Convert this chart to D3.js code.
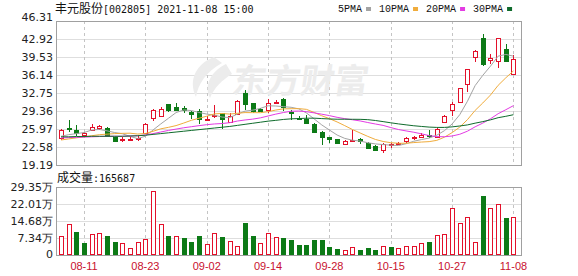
<!DOCTYPE html>
<html>
<head>
<meta charset="utf-8">
<script src="https://cdn.jsdelivr.net/npm/d3@7/dist/d3.min.js"></script>
<style>
	body { margin: 0; background: #fff; }
	svg { display: block; }
</style>
</head>
<body>
<div id="chart"></div>
<script>
// trading days shown on the chart
const dates = ["08-06","08-09","08-10","08-11","08-12","08-13","08-16","08-17","08-18","08-19","08-20",
	"08-23","08-24","08-25","08-26","08-27","08-30","08-31","09-01","09-02","09-03","09-06","09-07",
	"09-08","09-09","09-10","09-13","09-14","09-15","09-16","09-17","09-22","09-23","09-24","09-27",
	"09-28","09-29","09-30","10-08","10-11","10-12","10-13","10-14","10-15","10-18","10-19","10-20",
	"10-21","10-22","10-25","10-26","10-27","10-28","10-29","11-01","11-02","11-03","11-04","11-05","11-08"];

const opens = [24.2,26.15,25.8,24.9,25.8,26.2,26.2,24.4,24.0,23.9,24.0,25.3,28.0,28.4,30.6,30.2,29.9,29.2,29.4,27.7,
	28.4,28.9,27.3,28.9,32.8,30.8,29.7,29.5,31.0,31.7,29.1,28.1,27.8,27.0,25.4,24.4,24.0,23.3,23.7,24.0,
	23.4,22.8,22.1,23.0,23.2,23.6,24.2,24.5,24.8,24.4,27.3,29.5,31.0,34.4,39.6,43.05,39.0,38.8,41.0,36.3];
const highs = [25.9,27.65,26.7,25.4,27.0,26.7,26.3,24.5,24.5,24.4,24.6,27.1,29.8,30.2,30.7,30.8,30.3,29.3,29.7,28.4,
	30.4,29.0,29.0,31.4,33.4,30.9,30.0,31.6,31.4,31.8,29.55,28.5,28.6,27.1,25.5,24.5,24.1,23.9,25.8,24.2,
	23.6,22.9,23.4,23.4,23.5,24.5,24.6,25.2,25.8,26.1,28.6,31.1,33.7,37.3,40.8,43.9,40.1,43.1,42.0,40.0];
const lows = [23.9,25.45,24.65,24.8,25.5,25.7,24.6,23.5,23.6,23.8,23.8,25.2,27.4,28.3,29.2,29.3,29.0,27.8,26.9,27.5,
	28.0,25.9,27.1,28.8,29.5,29.0,29.1,28.9,30.8,29.4,27.7,27.6,27.0,25.4,23.0,23.3,23.1,23.2,23.6,23.2,
	22.4,22.0,21.5,22.3,23.1,23.3,23.9,24.3,24.2,24.3,27.2,28.4,30.9,33.0,38.5,37.8,38.3,37.4,38.7,36.1];
const closes = [25.8,26.0,25.3,25.2,26.4,26.5,24.7,23.7,24.1,24.15,24.2,27.0,29.5,29.8,29.4,29.6,29.5,28.9,27.8,27.9,
	28.6,27.7,28.4,31.3,30.7,29.3,29.4,30.8,31.1,30.1,28.9,27.9,27.0,25.5,24.4,24.1,23.2,23.8,23.85,23.6,
	22.5,22.1,23.2,23.1,23.3,24.2,24.4,24.8,24.6,26.0,28.5,30.7,33.6,37.2,40.7,38.2,39.3,43.05,38.8,39.1];

// volume in 万 (10k shares)
const volumes = [8.4,13.5,9.8,5.0,9.1,9.5,8.4,5.7,5.1,3.1,5.7,6.9,27.7,13.5,8.4,8.4,7.2,5.4,8.1,4.7,
	9.5,7.6,6.2,3.7,13.8,8.4,5.1,9.5,7.9,7.2,6.6,4.4,4.4,6.6,6.6,3.5,2.5,2.2,3.5,2.2,
	3.1,2.2,4.0,3.5,2.9,4.0,4.0,5.1,5.7,8.7,9.1,20.1,13.9,16.4,5.7,25.5,20.1,21.9,16.0,16.5687];

const ma5 = [24.6,24.9,25.1,25.3,25.78,25.88,25.62,25.3,25.08,24.58,24.16,24.62,25.78,26.92,27.98,29.06,29.56,29.44,29.08,28.78,
	28.58,28.22,28.12,28.78,29.34,29.52,29.86,30.34,30.3,30.18,30.06,29.76,29.0,27.88,26.74,25.78,24.84,24.2,23.86,23.7,
	23.38,23.16,23.04,22.92,22.86,23.2,23.66,23.98,24.26,24.8,25.66,26.92,28.68,31.2,34.14,36.08,37.8,39.69,40.01,39.69];
const ma10 = [23.9,24.1,24.3,24.5,24.7,24.9,25.0,25.1,25.15,25.18,25.02,25.12,25.54,26.0,26.28,26.61,27.09,27.61,28.0,28.38,
	28.82,28.89,28.78,28.93,29.06,29.05,29.04,29.23,29.54,29.76,29.79,29.81,29.67,29.09,28.46,27.92,27.3,26.6,25.87,25.22,
	24.58,24.0,23.62,23.39,23.28,23.29,23.41,23.51,23.59,23.83,24.43,25.29,26.33,27.73,29.47,30.87,32.36,34.19,35.61,36.92];
const ma20 = [24.3,24.35,24.4,24.45,24.5,24.55,24.6,24.6,24.6,24.65,24.7,24.85,25.1,25.4,25.7,25.95,26.2,26.4,26.6,26.78,
	26.92,27.0,27.16,27.47,27.67,27.83,28.07,28.42,28.77,29.07,29.31,29.35,29.23,29.01,28.76,28.49,28.17,27.92,27.71,27.49,
	27.19,26.91,26.65,26.24,25.87,25.61,25.36,25.06,24.73,24.53,24.51,24.65,24.98,25.56,26.38,27.08,27.89,28.85,29.6,30.37];
const ma30 = [24.5,24.5,24.55,24.55,24.6,24.6,24.6,24.6,24.6,24.65,24.7,24.8,24.95,25.1,25.25,25.4,25.55,25.7,25.85,26.0,
	26.15,26.3,26.45,26.65,26.85,27.05,27.25,27.45,27.6,27.77,27.88,27.94,28.0,28.01,27.93,27.86,27.81,27.81,27.8,27.79,
	27.73,27.57,27.36,27.14,26.93,26.75,26.58,26.45,26.33,26.27,26.27,26.37,26.54,26.74,27.07,27.36,27.69,28.1,28.36,28.66];

const maNames = ["5PMA", "10PMA", "20PMA", "30PMA"];
const maColors = ["#a3a3a3", "#f0ac3c", "#e33be3", "#0f6b2c"];

const priceTicks = [19.19, 22.58, 25.97, 29.36, 32.75, 36.14, 39.53, 42.92, 46.31];
const volumeTicks = [0, 7.34, 14.68, 22.01, 29.35];
const dateTicks = ["08-11", "08-23", "09-02", "09-14", "09-28", "10-15", "10-27", "11-08"];

const stockName = "丰元股份";
const stockInfo = "[002805] 2021-11-08 15:00";
const lastVolume = "165687";

class klineChart {
	constructor({ container }) {
		this.container = container;
		this.width = 578;
		this.height = 276;
		this.left = 56.5;
		this.right = 521.5;
		this.price = { top: 21, bottom: 165 };
		this.vol = { top: 187, bottom: 255 };
		this.red = "#e3102a";
		this.green = "#0c7a16";

		this.init();
		this.drawGrid();
		this.drawWatermark();
		this.drawCandles();
		this.drawMA();
		this.drawVolume();
		this.drawLabels();
	}

	init() {
		this.svg = d3.select(this.container)
			.append("svg")
			.attr("width", this.width)
			.attr("height", this.height);

		this.x = d3.scaleBand()
			.domain(dates)
			.range([57.2, 517.3])
			.paddingInner(0.35)
			.paddingOuter(0.175);
		this.cx = d => this.x(d) + this.x.bandwidth() / 2;

		this.y = d3.scaleLinear().domain([19.19, 46.31]).range([this.price.bottom, this.price.top]);
		this.yv = d3.scaleLinear().domain([0, 29.35]).range([this.vol.bottom, this.vol.top]);
	}

	drawGrid() {
		const g = this.svg.append("g").attr("shape-rendering", "crispEdges");

		// horizontal lines
		g.selectAll(".hp").data(priceTicks.slice(1, -1)).enter()
			.append("line")
			.attr("x1", this.left).attr("x2", this.right)
			.attr("y1", d => Math.round(this.y(d)) + 0.5)
			.attr("y2", d => Math.round(this.y(d)) + 0.5)
			.attr("stroke", "#dedede");
		g.selectAll(".hv").data(volumeTicks.slice(1, -1)).enter()
			.append("line")
			.attr("x1", this.left).attr("x2", this.right)
			.attr("y1", d => Math.round(this.yv(d)) + 0.5)
			.attr("y2", d => Math.round(this.yv(d)) + 0.5)
			.attr("stroke", "#dedede");

		// vertical dashed lines at the date ticks
		[this.price, this.vol].forEach(p => {
			g.selectAll(null).data(dateTicks).enter()
				.append("line")
				.attr("x1", d => Math.round(this.cx(d)) + 0.5)
				.attr("x2", d => Math.round(this.cx(d)) + 0.5)
				.attr("y1", p.top).attr("y2", p.bottom)
				.attr("stroke", "#c4c4c4")
				.attr("stroke-dasharray", "3,3");
		});

		// panel borders
		[this.price, this.vol].forEach(p => {
			g.append("rect")
				.attr("x", this.left).attr("y", p.top + 0.5)
				.attr("width", this.right - this.left)
				.attr("height", p.bottom - p.top)
				.attr("fill", "none")
				.attr("stroke", "#a0a0a0");
		});
	}

	drawWatermark() {
		const g = this.svg.append("g").attr("fill", "#ececec");
		g.append("path")
			.attr("d", "M214,57 C196,64 188,80 196,97 C198,84 206,72 222,63 Z M226,64 C210,72 204,86 210,98 C214,88 222,80 232,74 Z");
		g.append("text")
			.attr("x", 232).attr("y", 93)
			.attr("font-family", "Noto Sans CJK SC")
			.attr("font-size", 34)
			.attr("font-weight", "bold")
			.attr("transform", "skewX(-8) translate(12,0)")
			.text("东方财富");
	}

	drawCandles() {
		const data = dates.map((d, i) => ({
			date: d, open: opens[i], high: highs[i], low: lows[i], close: closes[i]
		}));
		const g = this.svg.append("g").attr("shape-rendering", "crispEdges");
		const col = d => d.close >= d.open ? this.red : this.green;

		g.selectAll(".wick").data(data).enter()
			.append("line")
			.attr("class", "wick")
			.attr("x1", d => Math.round(this.cx(d.date)) + 0.5)
			.attr("x2", d => Math.round(this.cx(d.date)) + 0.5)
			.attr("y1", d => this.y(d.high))
			.attr("y2", d => this.y(d.low))
			.attr("stroke", col);

		g.selectAll(".body").data(data).enter()
			.append("rect")
			.attr("class", "body")
			.attr("x", d => Math.round(this.cx(d.date)) - 2 + 0.5)
			.attr("width", 4)
			.attr("y", d => Math.round(this.y(Math.max(d.open, d.close))) + 0.5)
			.attr("height", d => Math.max(0.5, Math.round(Math.abs(this.y(d.open) - this.y(d.close)))))
			.attr("fill", d => d.close >= d.open ? "#fff" : this.green)
			.attr("stroke", col);
	}

	drawMA() {
		const g = this.svg.append("g").attr("fill", "none");
		[ma5, ma10, ma20, ma30].forEach((series, k) => {
			const line = d3.line()
				.x((d, i) => this.cx(dates[i]))
				.y(d => this.y(d));
			g.append("path")
				.attr("d", line(series))
				.attr("stroke", maColors[k])
				.attr("stroke-width", 1);
		});
	}

	drawVolume() {
		const g = this.svg.append("g").attr("shape-rendering", "crispEdges");
		// colour follows the change against the previous close
		const up = i => i === 0 ? closes[0] >= opens[0] : closes[i] >= closes[i - 1];

		g.selectAll(".vbar").data(volumes).enter()
			.append("rect")
			.attr("class", "vbar")
			.attr("x", (d, i) => Math.round(this.cx(dates[i])) - 2 + 0.5)
			.attr("width", 4)
			.attr("y", d => Math.round(this.yv(d)) + 0.5)
			.attr("height", d => this.vol.bottom - Math.round(this.yv(d)) - 1)
			.attr("fill", (d, i) => up(i) ? "#fff" : this.green)
			.attr("stroke", (d, i) => up(i) ? this.red : this.green);
	}

	drawLabels() {
		const axisFont = "DejaVu Sans";

		// price axis
		this.svg.append("g").selectAll("text").data(priceTicks).enter()
			.append("text")
			.attr("x", 53)
			.attr("y", d => this.y(d))
			.attr("dy", (d, i) => i === priceTicks.length - 1 ? "0" : "0.36em")
			.attr("text-anchor", "end")
			.attr("font-family", axisFont)
			.attr("font-size", 11)
			.attr("fill", "#222")
			.text(d => d.toFixed(2));

		// volume axis
		this.svg.append("g").selectAll("text").data(volumeTicks).enter()
			.append("text")
			.attr("x", 53)
			.attr("y", d => this.yv(d) - (d === 0 ? 1 : 0))
			.attr("dy", "0.36em")
			.attr("text-anchor", "end")
			.attr("font-family", axisFont)
			.attr("font-size", 11)
			.attr("fill", "#222")
			.text(d => d === 0 ? "0" : d.toFixed(2) + "万");

		// date axis
		this.svg.append("g").selectAll("text").data(dateTicks).enter()
			.append("text")
			.attr("x", d => this.cx(d))
			.attr("y", 270)
			.attr("text-anchor", "middle")
			.attr("font-family", "Liberation Sans")
			.attr("font-size", 11)
			.attr("fill", "#c8102e")
			.text(d => d);

		// title
		const title = this.svg.append("text")
			.attr("x", 55).attr("y", 13)
			.attr("fill", "#111");
		title.append("tspan")
			.attr("font-family", "Noto Sans CJK SC")
			.attr("font-size", 12)
			.text(stockName);
		title.append("tspan")
			.attr("font-family", "DejaVu Sans Mono")
			.attr("font-size", 10)
			.text(stockInfo);

		// volume caption
		const cap = this.svg.append("text")
			.attr("x", 57).attr("y", 182)
			.attr("fill", "#111");
		cap.append("tspan")
			.attr("font-family", "Noto Sans CJK SC")
			.attr("font-size", 12)
			.text("成交量");
		cap.append("tspan")
			.attr("font-family", "DejaVu Sans Mono")
			.attr("font-size", 10)
			.text(":" + lastVolume);

		// legend
		const legend = this.svg.append("g");
		let cursor = 338;
		maNames.forEach((name, k) => {
			const t = legend.append("text")
				.attr("x", cursor).attr("y", 12)
				.attr("font-family", "Liberation Mono")
				.attr("font-size", 10)
				.attr("fill", "#111")
				.text(name);
			const len = t.node().getComputedTextLength();
			legend.append("rect")
				.attr("x", cursor + len + 4)
				.attr("y", 7)
				.attr("width", 5)
				.attr("height", 4)
				.attr("fill", maColors[k]);
			cursor += len + 17;
		});
	}
}

new klineChart({ container: "#chart" });
</script>
</body>
</html>
